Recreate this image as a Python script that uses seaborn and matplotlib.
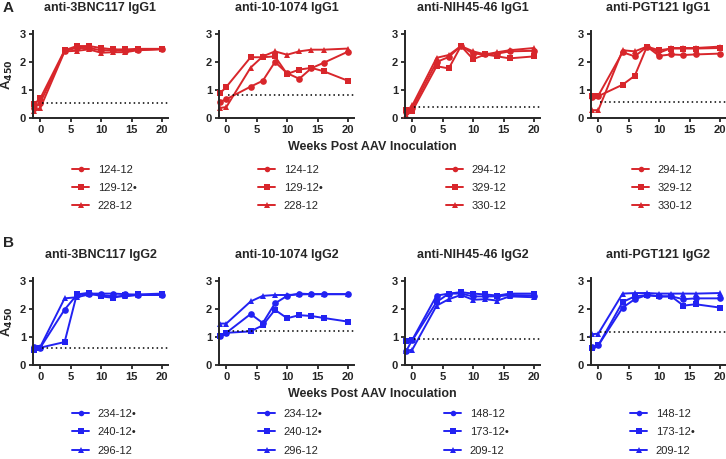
import matplotlib
matplotlib.use("Agg")
import matplotlib.pyplot as plt
import numpy as np
import pandas as pd
import seaborn as sns
from matplotlib.lines import Line2D

# Time points (weeks post AAV inoculation)
weeks = [-1, 0, 4, 6, 8, 10, 12, 14, 16, 20]

# ---- Row A: IgG1 ----
g1_titles = ["anti-3BNC117 IgG1", "anti-10-1074 IgG1", "anti-NIH45-46 IgG1", "anti-PGT121 IgG1"]
g1_labels = [["124-12", "129-12\u2022", "228-12"],
             ["124-12", "129-12\u2022", "228-12"],
             ["294-12", "329-12", "330-12"],
             ["294-12", "329-12", "330-12"]]
g1_cutoff = [0.55, 0.81, 0.38, 0.57]

g1_3bnc117 = [[0.35, 0.55, 2.40, 2.50, 2.50, 2.42, 2.42, 2.40, 2.43, 2.47],
              [0.50, 0.70, 2.42, 2.57, 2.57, 2.50, 2.45, 2.45, 2.47, 2.47],
              [0.25, 0.35, 2.38, 2.40, 2.45, 2.33, 2.35, 2.35, 2.42, 2.45]]
g1_10_1074 = [[0.58, 0.67, 1.12, 1.33, 2.00, 1.60, 1.40, 1.78, 1.97, 2.37],
              [0.89, 1.11, 2.17, 2.17, 2.20, 1.57, 1.73, 1.79, 1.67, 1.33],
              [0.36, 0.39, 1.80, 2.20, 2.38, 2.26, 2.38, 2.44, 2.44, 2.48]]
g1_nih45_46 = [[0.20, 0.35, 2.00, 2.18, 2.57, 2.30, 2.27, 2.30, 2.38, 2.40],
               [0.28, 0.25, 1.85, 1.77, 2.57, 2.10, 2.27, 2.20, 2.13, 2.20],
               [0.10, 0.45, 2.15, 2.25, 2.57, 2.38, 2.27, 2.35, 2.42, 2.50]]
g1_pgt121 = [[0.75, 0.80, 2.35, 2.20, 2.55, 2.22, 2.27, 2.25, 2.27, 2.30],
             [0.78, 0.78, 1.19, 1.51, 2.55, 2.42, 2.48, 2.48, 2.48, 2.50],
             [0.28, 0.28, 2.42, 2.38, 2.55, 2.33, 2.50, 2.50, 2.50, 2.55]]

# ---- Row B: IgG2 ----
g2_titles = ["anti-3BNC117 IgG2", "anti-10-1074 IgG2", "anti-NIH45-46 IgG2", "anti-PGT121 IgG2"]
g2_labels = [["234-12\u2022", "240-12\u2022", "296-12"],
             ["234-12\u2022", "240-12\u2022", "296-12"],
             ["148-12", "173-12\u2022", "209-12"],
             ["148-12", "173-12\u2022", "209-12"]]
g2_cutoff = [0.62, 1.21, 0.93, 1.19]

g2_3bnc117 = [[0.65, 0.62, 1.98, 2.50, 2.55, 2.55, 2.55, 2.53, 2.50, 2.50],
              [0.55, 0.62, 0.82, 2.52, 2.58, 2.45, 2.40, 2.50, 2.52, 2.55],
              [0.60, 0.65, 2.38, 2.42, 2.52, 2.50, 2.45, 2.45, 2.50, 2.50]]
g2_10_1074 = [[1.05, 1.15, 1.82, 1.50, 2.20, 2.47, 2.55, 2.53, 2.53, 2.53],
              [1.05, 1.15, 1.20, 1.42, 1.97, 1.67, 1.78, 1.75, 1.68, 1.55],
              [1.48, 1.48, 2.27, 2.47, 2.50, 2.50, 2.52, 2.53, 2.53, 2.53]]
g2_nih45_46 = [[0.50, 0.90, 2.48, 2.55, 2.55, 2.45, 2.45, 2.45, 2.50, 2.48],
               [0.85, 0.88, 2.25, 2.55, 2.60, 2.55, 2.52, 2.48, 2.55, 2.55],
               [0.50, 0.55, 2.12, 2.35, 2.50, 2.33, 2.35, 2.30, 2.45, 2.42]]
g2_pgt121 = [[0.65, 0.70, 2.05, 2.35, 2.50, 2.45, 2.45, 2.35, 2.38, 2.38],
             [0.60, 0.70, 2.25, 2.45, 2.50, 2.45, 2.45, 2.12, 2.17, 2.05],
             [1.10, 1.12, 2.55, 2.57, 2.57, 2.55, 2.55, 2.55, 2.55, 2.57]]

red = "#d8262b"
blue = "#2222f2"
markers = ["o", "s", "^"]
narrow = ["Liberation Sans Narrow", "Liberation Sans", "DejaVu Sans"]

sns.set_style("ticks")
plt.rcParams["font.family"] = ["Liberation Sans", "DejaVu Sans"]
plt.rcParams["font.weight"] = "bold"


def to_long(series, labels):
    rows = []
    for vals, lab in zip(series, labels):
        for w, v in zip(weeks, vals):
            rows.append({"week": w, "A450": v, "animal": lab})
    return pd.DataFrame(rows)


def draw_panel(ax, series, labels, title, cutoff, color, ylabel, leg_y):
    df = to_long(series, labels)
    sns.lineplot(data=df, x="week", y="A450", hue="animal", style="animal",
                 markers=markers, dashes=False, palette=[color] * 3,
                 markersize=4.8, markeredgewidth=0, linewidth=1.4,
                 legend=False, ax=ax, clip_on=False)
    # positivity cutoff
    ax.plot([0.3, 21.3], [cutoff, cutoff], ls=(0, (1, 2)), color="black",
            lw=1.1, clip_on=False)
    ax.set_xlim(-1.2, 21)
    ax.set_ylim(0, 3.12)
    ax.set_xticks([0, 5, 10, 15, 20])
    ax.set_yticks([0, 1, 2, 3])
    ax.set_xlabel("")
    ax.set_ylabel("A$_{450}$" if ylabel else "", fontsize=9.5, fontweight="bold")
    ax.yaxis.set_label_coords(-0.13, 0.5)
    ax.tick_params(labelsize=8, width=1.3, length=3, pad=2)
    for lab in ax.get_xticklabels() + ax.get_yticklabels():
        lab.set_fontweight("bold")
    sns.despine(ax=ax)
    for sp in ["left", "bottom"]:
        ax.spines[sp].set_linewidth(1.4)
    fig = ax.figure
    pos = ax.get_position()
    fig.text(pos.x0 + pos.width / 2, pos.y1 + 23 / H, title, ha="center",
             va="center", fontsize=9, fontweight="bold")
    handles = [Line2D([0], [0], color=color, marker=m, markersize=4,
                      markeredgewidth=0, lw=1.4) for m in markers]
    leg = ax.legend(handles, labels, loc="upper center",
                    bbox_to_anchor=(0.53, leg_y), frameon=False,
                    fontsize=8, handlelength=1.5, handletextpad=0.8,
                    labelspacing=0.75, borderpad=0)
    for t in leg.get_texts():
        t.set_fontweight("normal")
        t.set_family(narrow)


W, H = 726, 459
fig = plt.figure(figsize=(W / 100, H / 100), dpi=100)

lefts = [33, 219, 405, 591]
ax_w = 135
ax_h = 3.12 * 28
row_zero = [118, 365]
legend_y = [-0.47, -0.44]

rows = [
    (g1_titles, g1_labels, g1_cutoff, [g1_3bnc117, g1_10_1074, g1_nih45_46, g1_pgt121], red),
    (g2_titles, g2_labels, g2_cutoff, [g2_3bnc117, g2_10_1074, g2_nih45_46, g2_pgt121], blue),
]

for r, (titles, labels, cutoffs, data, color) in enumerate(rows):
    for i in range(4):
        ax = fig.add_axes([lefts[i] / W, 1 - row_zero[r] / H, ax_w / W, ax_h / H])
        draw_panel(ax, data[i], labels[i], titles[i], cutoffs[i], color, i == 0,
                   legend_y[r])
    fig.text(372 / W, 1 - (row_zero[r] + 29) / H, "Weeks Post AAV Inoculation",
             ha="center", va="center", fontsize=9, fontweight="bold", family=narrow)

fig.text(3 / W, 1 - 8 / H, "A", fontsize=11, fontweight="bold", va="center")
fig.text(3 / W, 1 - 243 / H, "B", fontsize=11, fontweight="bold", va="center")

fig.savefig("out.png", dpi=100)
